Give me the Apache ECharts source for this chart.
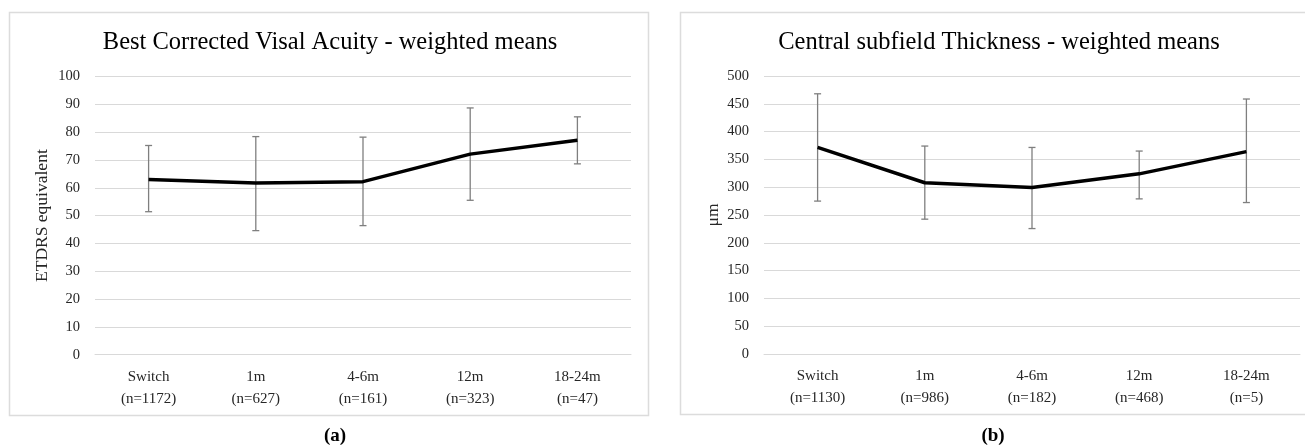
<!DOCTYPE html>
<html>
<head>
<meta charset="utf-8">
<script src="https://cdn.jsdelivr.net/npm/echarts@6/dist/echarts.min.js"></script>
<style>
  html, body { margin: 0; padding: 0; background: #fff; }
  #main { width: 1305px; height: 448px; }
</style>
</head>
<body>
<div id="main"></div>
<script>
  // time points
  var categories = ['Switch', '1m', '4-6m', '12m', '18-24m'];
  var bcvaN = ['1172', '627', '161', '323', '47'];
  var cstN = ['1130', '986', '182', '468', '5'];

  // (a) BCVA weighted means + error range
  var bcvaMean = [63, 61.7, 62.2, 72.1, 77.1];
  var bcvaLow = [51.4, 44.6, 46.4, 55.5, 68.6];
  var bcvaHigh = [75.2, 78.4, 78.2, 88.7, 85.5];

  // (b) CST weighted means + error range
  var cstMean = [371.5, 308, 299.5, 324, 364];
  var cstLow = [275, 242.5, 225.6, 279, 272.4];
  var cstHigh = [468, 374, 371.5, 365, 458.6];

  var FONT = 'Liberation Serif';

  function labelsOf(nArr){
    return categories.map(function (c, i) { return c + '\n(n=' + nArr[i] + ')'; });
  }
  function errData(low, high){
    return categories.map(function (c, i) { return [i, low[i], high[i]]; });
  }
  function renderErr(params, api){
    var x = api.value(0);
    var lo = api.coord([x, api.value(1)]);
    var hi = api.coord([x, api.value(2)]);
    var w = 3.5;
    var st = { stroke: '#7f7f7f', lineWidth: 1.3 };
    return {
      type: 'group',
      children: [
        { type: 'line', shape: { x1: hi[0], y1: hi[1], x2: lo[0], y2: lo[1] }, style: st },
        { type: 'line', shape: { x1: hi[0] - w, y1: hi[1], x2: hi[0] + w, y2: hi[1] }, style: st },
        { type: 'line', shape: { x1: lo[0] - w, y1: lo[1], x2: lo[0] + w, y2: lo[1] }, style: st }
      ]
    };
  }
  function xAxisOf(idx, nArr){
    return {
      type: 'category', gridIndex: idx, data: labelsOf(nArr),
      boundaryGap: true,
      axisLine: { lineStyle: { color: '#d9d9d9', width: 1 } },
      axisTick: { show: false },
      axisLabel: { color: '#262626', fontFamily: FONT, fontSize: 15, lineHeight: 22, margin: 11, interval: 0 }
    };
  }
  function yAxisOf(idx, max, interval, name, gap){
    return {
      type: 'value', gridIndex: idx, min: 0, max: max, interval: interval,
      name: name, nameLocation: 'middle', nameGap: gap, nameRotate: 90,
      nameTextStyle: { color: '#262626', fontFamily: FONT, fontSize: 17.5 },
      axisLine: { show: false }, axisTick: { show: false },
      splitLine: { lineStyle: { color: '#d9d9d9', width: 1 } },
      axisLabel: { color: '#262626', fontFamily: FONT, fontSize: 14.5, margin: 15 }
    };
  }

  var chart = echarts.init(document.getElementById('main'));
  chart.setOption({
    animation: false,
    backgroundColor: '#fff',
    graphic: [
      { type: 'rect', shape: { x: 9.5, y: 12.5, width: 639, height: 403 }, style: { fill: 'none', stroke: '#dcdcdc', lineWidth: 1.5 }, z: -1 },
      { type: 'rect', shape: { x: 680.5, y: 12.5, width: 630, height: 402 }, style: { fill: 'none', stroke: '#dcdcdc', lineWidth: 1.5 }, z: -1 },
      { type: 'text', x: 330, y: 30, style: { text: 'Best Corrected Visal Acuity - weighted means', font: '24.5px "Liberation Serif"', fill: '#000', textAlign: 'center' } },
      { type: 'text', x: 999, y: 30, style: { text: 'Central subfield Thickness - weighted means', font: '24.5px "Liberation Serif"', fill: '#000', textAlign: 'center' } },
      { type: 'text', x: 335, y: 427, style: { text: '(a)', font: 'bold 19px "Liberation Serif"', fill: '#000', textAlign: 'center' } },
      { type: 'text', x: 993, y: 427, style: { text: '(b)', font: 'bold 19px "Liberation Serif"', fill: '#000', textAlign: 'center' } }
    ],
    grid: [
      { left: 95, right: 674, top: 76.5, bottom: 93.3 },
      { left: 764, right: 5, top: 76, bottom: 94 }
    ],
    xAxis: [ xAxisOf(0, bcvaN), xAxisOf(1, cstN) ],
    yAxis: [
      yAxisOf(0, 100, 10, 'ETDRS equivalent', 44),
      yAxisOf(1, 500, 50, 'μm', 42)
    ],
    series: [
      { type: 'custom', xAxisIndex: 0, yAxisIndex: 0, data: errData(bcvaLow, bcvaHigh), renderItem: renderErr, z: 1 },
      { type: 'line', xAxisIndex: 0, yAxisIndex: 0, data: bcvaMean, showSymbol: false, symbol: 'none',
        lineStyle: { color: '#000', width: 3.5 }, z: 2 },
      { type: 'custom', xAxisIndex: 1, yAxisIndex: 1, data: errData(cstLow, cstHigh), renderItem: renderErr, z: 1 },
      { type: 'line', xAxisIndex: 1, yAxisIndex: 1, data: cstMean, showSymbol: false, symbol: 'none',
        lineStyle: { color: '#000', width: 3.5 }, z: 2 }
    ]
  });
</script>
</body>
</html>
